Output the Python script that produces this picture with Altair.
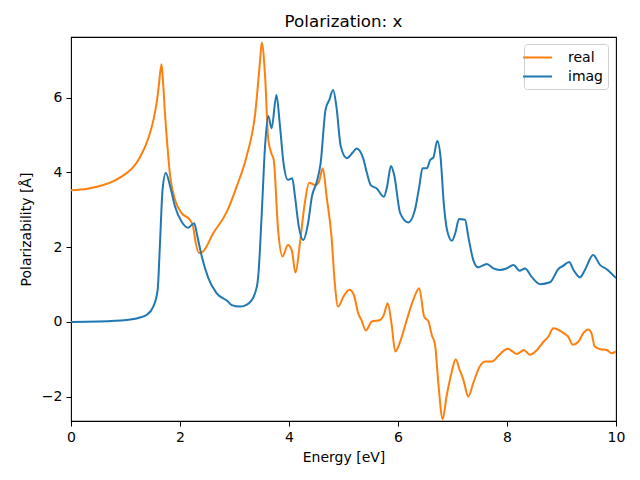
import altair as alt
import pandas as pd

x_real = [0.0, 0.3, 0.59, 0.8, 1.02, 1.15, 1.27, 1.37, 1.45, 1.52, 1.57, 1.61, 1.66, 1.69, 1.72, 1.77, 1.82, 1.91, 2.03, 2.18, 2.24, 2.29, 2.35, 2.42, 2.61, 2.86, 3.04, 3.22, 3.38, 3.47, 3.50, 3.56, 3.62, 3.68, 3.72, 3.80, 3.88, 3.98, 4.05, 4.12, 4.20, 4.29, 4.37, 4.48, 4.55, 4.62, 4.69, 4.78, 4.84, 4.90, 5.00, 5.11, 5.19, 5.27, 5.33, 5.41, 5.52, 5.67, 5.74, 5.81, 5.88, 5.95, 6.04, 6.16, 6.28, 6.39, 6.48, 6.56, 6.62, 6.68, 6.74, 6.82, 6.89, 6.98, 7.06, 7.13, 7.20, 7.29, 7.38, 7.50, 7.61, 7.72, 7.84, 7.93, 8.02, 8.10, 8.18, 8.31, 8.42, 8.55, 8.67, 8.76, 8.85, 8.94, 9.06, 9.12, 9.21, 9.31, 9.40, 9.49, 9.55, 9.61, 9.71, 9.83, 9.92, 10.0]
y_real = [3.52, 3.56, 3.66, 3.78, 3.98, 4.15, 4.42, 4.72, 5.05, 5.45, 5.85, 6.3, 6.89, 6.4, 5.67, 4.69, 3.89, 3.26, 2.91, 2.73, 2.55, 2.1, 1.84, 1.88, 2.37, 2.95, 3.62, 4.42, 5.58, 7.0, 7.47, 6.6, 4.87, 4.5, 4.33, 2.46, 1.75, 2.06, 1.92, 1.32, 2.1, 3.18, 3.72, 3.66, 3.75, 4.11, 3.35, 2.28, 1.04, 0.41, 0.68, 0.86, 0.72, 0.23, 0.05, -0.23, 0.01, 0.05, 0.19, 0.5, -0.03, -0.79, -0.53, 0.05, 0.59, 0.9, 0.14, 0.01, -0.35, -0.61, -1.64, -2.6, -2.0, -1.37, -1.0, -1.28, -1.55, -2.0, -1.64, -1.19, -1.06, -1.06, -0.91, -0.78, -0.72, -0.79, -0.86, -0.75, -0.88, -0.75, -0.53, -0.39, -0.17, -0.21, -0.32, -0.39, -0.61, -0.53, -0.3, -0.2, -0.3, -0.66, -0.73, -0.75, -0.84, -0.79]

x_imag = [0.0, 0.5, 1.02, 1.25, 1.39, 1.51, 1.59, 1.63, 1.68, 1.74, 1.82, 1.91, 2.03, 2.15, 2.26, 2.32, 2.40, 2.52, 2.67, 2.86, 2.95, 3.10, 3.28, 3.41, 3.44, 3.50, 3.56, 3.62, 3.68, 3.77, 3.83, 3.90, 3.98, 4.06, 4.11, 4.18, 4.26, 4.35, 4.42, 4.51, 4.58, 4.67, 4.74, 4.81, 4.87, 4.95, 5.06, 5.17, 5.24, 5.36, 5.43, 5.50, 5.61, 5.74, 5.80, 5.87, 5.93, 6.04, 6.19, 6.31, 6.39, 6.45, 6.53, 6.59, 6.65, 6.72, 6.78, 6.84, 6.90, 6.99, 7.05, 7.12, 7.23, 7.29, 7.38, 7.47, 7.63, 7.75, 7.87, 7.99, 8.12, 8.23, 8.33, 8.45, 8.61, 8.79, 8.94, 9.03, 9.14, 9.22, 9.34, 9.43, 9.58, 9.71, 9.83, 10.0]
y_imag = [0.0, 0.01, 0.05, 0.11, 0.19, 0.41, 0.86, 2.01, 3.53, 3.98, 3.62, 3.08, 2.68, 2.52, 2.64, 2.28, 1.75, 1.17, 0.77, 0.57, 0.45, 0.41, 0.52, 0.94, 1.3, 2.9, 4.69, 5.51, 5.18, 6.07, 5.31, 4.24, 3.8, 3.84, 3.35, 2.55, 2.19, 2.64, 3.35, 3.75, 4.24, 5.67, 5.94, 6.2, 5.76, 4.69, 4.38, 4.53, 4.64, 4.38, 3.98, 3.66, 3.57, 3.35, 3.62, 4.17, 3.93, 2.91, 2.66, 2.99, 3.62, 4.11, 4.11, 4.33, 4.4, 4.84, 4.42, 3.17, 2.46, 2.17, 2.37, 2.75, 2.73, 2.28, 1.66, 1.46, 1.55, 1.43, 1.39, 1.43, 1.52, 1.37, 1.43, 1.21, 1.01, 1.06, 1.41, 1.5, 1.6, 1.39, 1.19, 1.39, 1.79, 1.52, 1.41, 1.17]

series_names = ["real", "imag"]
series_colors = ["#ff7f0e", "#1f77b4"]

df = pd.concat([
    pd.DataFrame({"energy": x_real, "value": y_real, "series": "real", "order": 0}),
    pd.DataFrame({"energy": x_imag, "value": y_imag, "series": "imag", "order": 1}),
])

font = "DejaVu Sans"

chart = alt.Chart(df).mark_line(strokeWidth=2, interpolate="monotone", clip=True).encode(
    x=alt.X("energy:Q", title="Energy [eV]",
            scale=alt.Scale(domain=[0, 10], nice=False, zero=False),
            axis=alt.Axis(values=[0, 2, 4, 6, 8, 10], grid=False, tickSize=5, labelPadding=4,
                          titlePadding=6, domain=False, tickColor="black", labelColor="black",
                          labelFlush=False, labelFontSize=14, titleFontSize=14,
                          titleFontWeight="normal", labelFont=font, titleFont=font)),
    y=alt.Y("value:Q", title="Polarizability [Å]",
            scale=alt.Scale(domain=[-2.65, 7.62], nice=False, zero=False),
            axis=alt.Axis(values=[-2, 0, 2, 4, 6], grid=False, tickSize=5, labelPadding=4,
                          titlePadding=8, domain=False, tickColor="black", labelColor="black",
                          labelFlush=False, labelFontSize=14, titleFontSize=14,
                          titleFontWeight="normal", labelFont=font, titleFont=font)),
    color=alt.Color("series:N", scale=alt.Scale(domain=series_names, range=series_colors),
                    legend=alt.Legend(title=None, orient="none", legendX=453, legendY=7,
                                      symbolType="M-2,0H2", symbolStrokeWidth=2, symbolSize=210,
                                      labelFontSize=14, labelFont=font, labelColor="black",
                                      padding=5, strokeColor="#d0d0d0", fillColor="white",
                                      cornerRadius=3, rowPadding=3, labelOffset=22)),
    order="order:Q",
).properties(
    width=545, height=384,
    title=alt.TitleParams("Polarization: x", fontSize=16.7, font=font, fontWeight="normal",
                          color="black", offset=6),
    autosize=alt.AutoSizeParams(type="none"),
    padding={"left": 63, "top": 29, "right": 16, "bottom": 51},
).configure_view(stroke="black", strokeWidth=1.1)

chart.save("out.html", embed_options={"renderer": "svg", "actions": False})
